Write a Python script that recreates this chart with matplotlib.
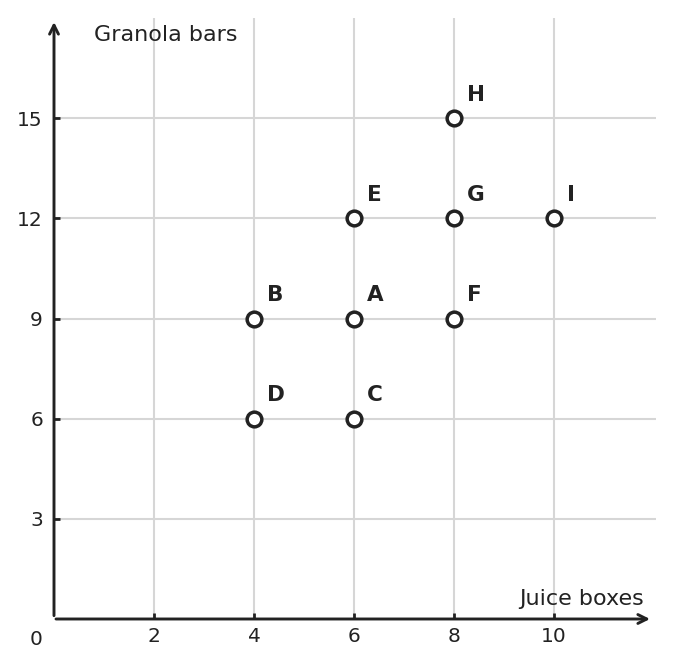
import numpy as np
import matplotlib.pyplot as plt

# points
names = ['A', 'B', 'C', 'D', 'E', 'F', 'G', 'H', 'I']
juice = [6, 4, 6, 4, 6, 8, 8, 8, 10]
granola = [9, 9, 6, 6, 12, 9, 12, 15, 12]

xticks = [2, 4, 6, 8, 10]
yticks = [3, 6, 9, 12, 15]

ink = '#222222'
gridc = '#d6d6d6'

fig = plt.figure(figsize=(6.74, 6.68), dpi=100)
ax = fig.add_axes([54 / 674, 49 / 668, 602 / 674, 601 / 668])
ax.set_xlim(0, 12.04)
ax.set_ylim(0, 18)
for s in ax.spines.values():
    s.set_visible(False)

for x in xticks:
    ax.axvline(x, color=gridc, lw=1.5, zorder=0)
for y in yticks:
    ax.axhline(y, color=gridc, lw=1.5, zorder=0)

ax.set_xticks(xticks)
ax.set_yticks(yticks)
ax.tick_params(axis='both', direction='in', length=4, width=2, color=ink,
               labelcolor=ink, labelsize=14.5)
ax.tick_params(axis='x', pad=6)
ax.tick_params(axis='y', pad=8)

# axis arrows
ax.annotate('', xy=(11.92, 0), xytext=(0.04, 0), xycoords='data',
            arrowprops=dict(arrowstyle='->', color=ink, lw=2.1, mutation_scale=16,
                            shrinkA=0, shrinkB=0), clip_on=False)
ax.annotate('', xy=(0, 17.88), xytext=(0, 0.1), xycoords='data',
            arrowprops=dict(arrowstyle='->', color=ink, lw=2.1, mutation_scale=16,
                            shrinkA=0, shrinkB=0), clip_on=False)

ax.text(-0.35, -0.6, '0', ha='center', va='center', fontsize=14.5, color=ink)
ax.text(0.8, 17.5, 'Granola bars', ha='left', va='center', fontsize=16, color=ink)
ax.text(11.8, 0.6, 'Juice boxes', ha='right', va='center', fontsize=16, color=ink)

ax.scatter(juice, granola, s=112, facecolor='white', edgecolor=ink, linewidth=2.5,
           zorder=3, clip_on=False)
for n, x, y in zip(names, juice, granola):
    ax.annotate(n, (x, y), xytext=(9.5, 9.5), textcoords='offset points', ha='left',
                va='bottom', fontsize=15.5, fontweight='bold', color=ink)

fig.savefig('out.png', dpi=100)
